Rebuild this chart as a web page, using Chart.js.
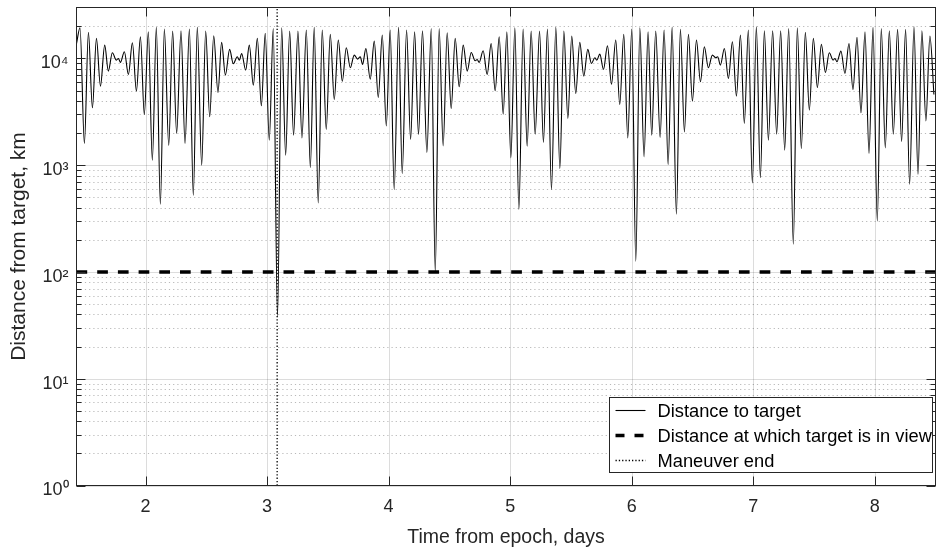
<!DOCTYPE html>
<html><head><meta charset="utf-8">
<script src="https://cdn.jsdelivr.net/npm/chart.js@4.4.0/dist/chart.umd.min.js"></script>
<style>html,body{margin:0;padding:0;background:#fff;}canvas{display:block;}</style>
</head><body>
<canvas id="c" width="936" height="553"></canvas>
<script>
// ---- data ----
const days = [
1.432,1.461,1.497,1.530,1.563,1.596,1.629,1.664,1.694,1.727,1.760,1.777,1.793,1.826,1.859,1.892,1.925,1.958,1.990,2.023,
2.056,2.089,2.122,2.155,2.191,2.223,2.256,2.292,2.325,2.361,2.393,2.426,2.462,2.495,2.528,2.561,2.596,
2.626,2.657,2.692,2.722,2.755,2.772,2.791,2.824,2.854,2.887,2.920,2.953,2.985,3.018,3.051,3.086,3.120,3.153,3.186,
3.218,3.254,3.287,3.323,3.356,3.388,3.421,3.454,3.487,3.520,3.553,3.586,3.619,3.652,3.685,3.717,3.745,3.767,
3.786,3.813,3.849,3.882,3.915,3.948,3.981,4.013,4.046,4.082,4.112,4.148,4.181,4.214,4.246,4.279,4.315,4.351,4.384,
4.416,4.449,4.482,4.515,4.548,4.581,4.614,4.647,4.680,4.712,4.729,4.745,4.778,4.811,4.844,4.877,4.910,4.943,
4.973,5.006,5.039,5.072,5.107,5.140,5.173,5.206,5.242,5.274,5.307,5.340,5.376,5.409,5.442,5.475,5.507,5.540,5.573,
5.606,5.639,5.669,5.697,5.713,5.738,5.768,5.801,5.834,5.869,5.902,5.935,5.968,6.001,6.034,6.067,6.102,6.135,
6.165,6.198,6.234,6.267,6.300,6.333,6.368,6.401,6.434,6.467,6.500,6.533,6.566,6.598,6.631,6.664,6.692,6.708,6.730,
6.763,6.796,6.829,6.862,6.895,6.927,6.960,6.993,7.026,7.059,7.092,7.125,7.160,7.193,7.226,7.259,7.292,7.330,
7.363,7.396,7.429,7.462,7.495,7.528,7.561,7.594,7.626,7.657,7.673,7.689,7.722,7.755,7.788,7.821,7.854,7.887,7.920,
7.953,7.986,8.021,8.054,8.087,8.120,8.153,8.188,8.221,8.254,8.287,8.323,8.356,8.388,8.421,8.454,8.487
];
const distanceKm = [
13800,19390,1596,17530,3447,15400,5503,13340,7608,11300,9647,10000,9173,11550,7079,14030,4941,15970,2985,17780,
1114,19530,431,18840,1529,18050,1981,18170,1596,18840,523,19530,1000,18050,2839,16320,4801,
14130,6980,12150,8913,10360,9647,11140,7776,13340,5623,15400,3600,17160,1716,19100,38,19390,1241,18050,
1911,18050,1804,18440,951,19530,444,18440,2160,16790,4126,14860,6131,12590,8177,10750,9857,10360,
8784,12410,6400,14540,4310,16560,2337,18440,591,19530,835,18440,1740,17780,1939,18170,1315,19100,100,
19100,1518,17400,3398,15400,5425,13340,7608,11380,9509,9786,9173,11800,7079,13820,4977,15970,3007,
17780,1171,19390,387,18840,1507,18050,1953,18050,1632,18840,591,19530,931,18050,2740,16200,4697,14130,
6830,12150,8977,10140,9647,10980,7887,13150,5746,14860,3705,16790,1804,18840,126,19390,1197,17780,
1911,18050,1817,18440,1014,19530,347,18700,2050,16790,3981,14860,6040,12860,8177,10750,10140,10360,8660,
12410,6490,14330,4437,16560,2459,18440,683,19820,766,18170,1716,18170,1953,18170,1382,19100,182,
19390,1430,17530,3278,15400,5346,13530,7391,11300,9647,10000,9300,11720,7233,13820,5122,15740,3095,17780,
1286,19530,301,19100,1454,18170,1953,18700,1660,18700,663,19820,823,18170,2604,16200,4597
];
const viewDistanceKm = 100;
const maneuverEndDay = 3.083;
const xRange = [1.432, 8.5];
const yRange = [1, 30000];
const xTicks = [2, 3, 4, 5, 6, 7, 8];
const yTicks = [1, 10, 100, 1000, 10000];
const yTickLabels = ['10\u2070', '10\u00B9', '10\u00B2', '10\u00B3', '10\u2074'];
const legendLabels = ['Distance to target', 'Distance at which target is in view', 'Maneuver end'];

// ---- chart ----
const AX = '#262626';
Chart.defaults.font.family = '"Liberation Sans", Arial, Helvetica, sans-serif';
const curve = days.map((d, i) => ({x: d, y: distanceKm[i]}));
const viewLine = [{x: xRange[0], y: viewDistanceKm}, {x: xRange[1], y: viewDistanceKm}];
const maneuverLine = [{x: maneuverEndDay, y: yRange[0]}, {x: maneuverEndDay, y: yRange[1]}];

const styles = [
  {color: '#000', width: 1.1, dash: []},
  {color: '#000', width: 3.5, dash: [10.7, 10]},
  {color: '#000', width: 1.3, dash: [1.3, 2]}
];

const matlabAxes = {
  id: 'matlabAxes',
  beforeDatasetsDraw(chart) {
    const {ctx, chartArea: a, scales: {x, y}} = chart;
    ctx.save();
    ctx.lineWidth = 1;
    ctx.strokeStyle = 'rgba(38,38,38,0.32)';
    ctx.setLineDash([1.2, 3]);
    for (let k = 0; k < 5; k++) {
      for (let m = 2; m <= 9; m++) {
        const v = m * Math.pow(10, k);
        if (v >= yRange[1]) continue;
        const py = Math.round(y.getPixelForValue(v)) + 0.5;
        ctx.beginPath(); ctx.moveTo(a.left, py); ctx.lineTo(a.right, py); ctx.stroke();
      }
    }
    ctx.setLineDash([]);
    ctx.strokeStyle = 'rgba(38,38,38,0.16)';
    yTicks.forEach(v => {
      const py = Math.round(y.getPixelForValue(v)) + 0.5;
      ctx.beginPath(); ctx.moveTo(a.left, py); ctx.lineTo(a.right, py); ctx.stroke();
    });
    xTicks.forEach(v => {
      const px = Math.round(x.getPixelForValue(v)) + 0.5;
      ctx.beginPath(); ctx.moveTo(px, a.top); ctx.lineTo(px, a.bottom); ctx.stroke();
    });
    ctx.restore();
  },
  afterDraw(chart) {
    const {ctx, chartArea: a, scales: {x, y}} = chart;
    ctx.save();
    ctx.strokeStyle = AX; ctx.lineWidth = 1; ctx.setLineDash([]);
    const major = 9, minor = 5;
    ctx.beginPath();
    xTicks.forEach(v => {
      const px = Math.round(x.getPixelForValue(v)) + 0.5;
      ctx.moveTo(px, a.bottom); ctx.lineTo(px, a.bottom - major);
      ctx.moveTo(px, a.top); ctx.lineTo(px, a.top + major);
    });
    for (let k = 0; k < 5; k++) {
      for (let m = 1; m <= 9; m++) {
        const v = m * Math.pow(10, k);
        if (v >= yRange[1]) continue;
        const py = Math.round(y.getPixelForValue(v)) + 0.5;
        const len = m === 1 ? major : minor;
        ctx.moveTo(a.left, py); ctx.lineTo(a.left + len, py);
        ctx.moveTo(a.right, py); ctx.lineTo(a.right - len, py);
      }
    }
    ctx.stroke();
    ctx.strokeRect(a.left, a.top, a.right - a.left, a.bottom - a.top);
    // legend
    const bw = 323, bh = 75;
    const bx = a.right - 3 - bw, by = a.bottom - 13 - bh;
    ctx.fillStyle = '#fff';
    ctx.fillRect(bx, by, bw, bh);
    ctx.strokeStyle = AX;
    ctx.strokeRect(bx, by, bw, bh);
    ctx.font = '18.3px "Liberation Sans", Arial, sans-serif';
    ctx.textBaseline = 'middle';
    ctx.textAlign = 'left';
    legendLabels.forEach((lab, i) => {
      const ry = by + 13 + i * 25;
      const s = styles[i];
      ctx.save();
      ctx.strokeStyle = s.color; ctx.lineWidth = s.width;
      ctx.setLineDash(i === 1 ? [9, 10] : s.dash);
      ctx.beginPath(); ctx.moveTo(bx + 6, ry); ctx.lineTo(bx + 36, ry); ctx.stroke();
      ctx.restore();
      ctx.fillStyle = '#000';
      ctx.fillText(lab, bx + 48, ry + 1);
    });
    ctx.restore();
  }
};

new Chart(document.getElementById('c'), {
  type: 'line',
  data: {
    datasets: [
      {label: legendLabels[0], data: curve, borderColor: styles[0].color, borderWidth: styles[0].width,
       pointRadius: 0, cubicInterpolationMode: 'monotone', fill: false, order: 3},
      {label: legendLabels[1], data: viewLine, borderColor: styles[1].color, borderWidth: styles[1].width,
       borderDash: styles[1].dash, borderCapStyle: 'butt', pointRadius: 0, fill: false, order: 2},
      {label: legendLabels[2], data: maneuverLine, borderColor: styles[2].color, borderWidth: styles[2].width,
       borderDash: styles[2].dash, pointRadius: 0, fill: false, order: 1}
    ]
  },
  options: {
    responsive: false,
    animation: false,
    devicePixelRatio: 1,
    layout: {padding: {left: 0, right: 0.5, top: 7.5, bottom: 0}},
    plugins: {legend: {display: false}, tooltip: {enabled: false}},
    events: [],
    scales: {
      x: {
        type: 'linear', min: xRange[0], max: xRange[1],
        afterBuildTicks: s => { s.ticks = xTicks.map(v => ({value: v})); },
        afterFit: s => { s.height = 67.5; s.paddingLeft = 0; s.paddingRight = 0; },
        grid: {display: false, drawTicks: false},
        border: {display: false},
        ticks: {font: {size: 18}, color: AX, padding: 11, maxRotation: 0, autoSkip: false,
                callback: v => String(v)},
        title: {display: true, text: 'Time from epoch, days', font: {size: 19.5}, color: AX,
                padding: {top: 0, bottom: 4}}
      },
      y: {
        type: 'logarithmic', min: yRange[0], max: yRange[1],
        afterBuildTicks: s => { s.ticks = yTicks.map(v => ({value: v})); },
        afterFit: s => { s.width = 76.5; s.paddingTop = 0; s.paddingBottom = 0; },
        grid: {display: false, drawTicks: false},
        border: {display: false},
        ticks: {font: {size: 18}, color: AX, padding: 8, labelOffset: 5, autoSkip: false,
                callback: (v, i) => yTickLabels[i]},
        title: {display: true, text: 'Distance from target, km', font: {size: 21}, color: AX,
                padding: {top: 7, bottom: 0}}
      }
    }
  },
  plugins: [matlabAxes]
});
</script>
</body></html>
